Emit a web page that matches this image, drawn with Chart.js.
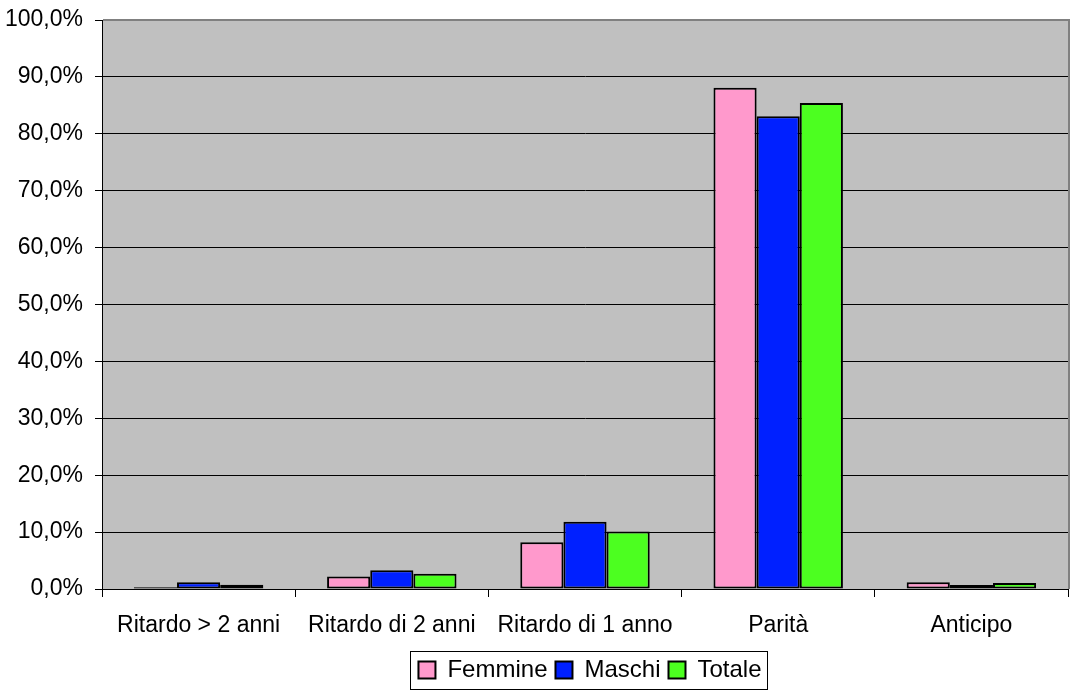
<!DOCTYPE html>
<html>
<head>
<meta charset="utf-8">
<script src="https://cdn.jsdelivr.net/npm/chart.js@4"></script>
<style>
    body { margin: 0; background: #ffffff; }
    canvas { display: block; }
</style>
</head>
<body>
<canvas id="grafico" width="1078" height="698"></canvas>
<script>
// Dati (percentuali)
const categorie = ['Ritardo > 2 anni', 'Ritardo di 2 anni', 'Ritardo di 1 anno', 'Parità', 'Anticipo'];
const femmine = [0.3, 2.2, 8.2, 88.1, 1.2];
const maschi = [1.2, 3.3, 11.8, 83.1, 0.7];
const totale = [0.75, 2.7, 10.1, 85.4, 1.05];
const yMin = 0;
const yMax = 100;
const yPasso = 10;

const fontBase = "'Liberation Sans', Arial, sans-serif";
const spostaLegenda = 56; // la legenda nell'originale non è centrata sulla pagina

// Sfondo grigio dell'area del grafico, cornice e riquadro della legenda
const sfondoPlugin = {
    id: 'sfondo',
    afterLayout(chart) {
        const leg = chart.legend;
        leg.left += spostaLegenda;
        leg.right += spostaLegenda;
        leg.legendHitBoxes.forEach(b => { b.left += spostaLegenda; });
    },
    beforeDraw(chart) {
        const { ctx, chartArea: a } = chart;
        ctx.save();
        ctx.fillStyle = '#c0c0c0';
        ctx.fillRect(a.left, a.top, a.right - a.left, a.bottom - a.top);
        ctx.restore();
    },
    beforeDatasetsDraw(chart) {
        const { ctx, chartArea: a } = chart;
        ctx.save();
        ctx.strokeStyle = '#808080';
        ctx.lineWidth = 2;
        ctx.beginPath();
        ctx.moveTo(a.left + 1, a.top);
        ctx.lineTo(a.right + 1, a.top);
        ctx.lineTo(a.right + 1, a.bottom);
        ctx.stroke();
        ctx.restore();
    },
    afterDraw(chart) {
        const boxes = chart.legend.legendHitBoxes;
        if (!boxes || !boxes.length) return;
        const { ctx } = chart;
        const left = Math.min(...boxes.map(b => b.left)) - 8;
        const right = Math.max(...boxes.map(b => b.left + b.width)) + 6;
        const top = Math.min(...boxes.map(b => b.top)) - 7;
        const bottom = Math.max(...boxes.map(b => b.top + b.height)) + 7;
        ctx.save();
        ctx.strokeStyle = '#000000';
        ctx.lineWidth = 1;
        ctx.strokeRect(Math.round(left) + 0.5, Math.round(top) + 0.5, Math.round(right - left), Math.round(bottom - top));
        ctx.restore();
    }
};

const ctx = document.getElementById('grafico').getContext('2d');

new Chart(ctx, {
    type: 'bar',
    data: {
        labels: categorie,
        datasets: [
            { label: 'Femmine', data: femmine, backgroundColor: '#ff99cc' },
            { label: 'Maschi', data: maschi, backgroundColor: '#0020ff' },
            { label: 'Totale', data: totale, backgroundColor: '#4cff20' }
        ].map(d => Object.assign(d, {
            borderColor: '#000000',
            borderWidth: 2,
            borderSkipped: false,
            categoryPercentage: 0.67,
            barPercentage: 1
        }))
    },
    options: {
        responsive: false,
        animation: false,
        devicePixelRatio: 1,
        layout: { padding: { left: 0, right: 10, top: 20, bottom: 6 } },
        plugins: {
            tooltip: { enabled: false },
            legend: {
                position: 'bottom',
                labels: {
                    color: '#000000',
                    font: { family: fontBase, size: 24 },
                    boxWidth: 17,
                    boxHeight: 17,
                    padding: 8,
                    generateLabels(chart) {
                        return chart.data.datasets.map((d, i) => ({
                            text: d.label,
                            fillStyle: d.backgroundColor,
                            strokeStyle: '#000000',
                            lineWidth: 2,
                            datasetIndex: i,
                            fontColor: '#000000'
                        }));
                    }
                }
            }
        },
        scales: {
            x: {
                grid: {
                    offset: true,
                    drawOnChartArea: false,
                    drawTicks: true,
                    tickLength: 8,
                    color: '#000000'
                },
                border: { color: '#000000', width: 1 },
                ticks: {
                    color: '#000000',
                    font: { family: fontBase, size: 23 },
                    padding: 15,
                    maxRotation: 0
                },
                afterFit(scale) {
                    scale.height = 61;
                    scale.paddingLeft = 0;
                    scale.paddingRight = 0;
                }
            },
            y: {
                min: yMin,
                max: yMax,
                grid: {
                    color: '#000000',
                    tickLength: 7
                },
                border: { color: '#000000', width: 1 },
                ticks: {
                    stepSize: yPasso,
                    color: '#000000',
                    font: { family: fontBase, size: 23 },
                    padding: 12,
                    callback: v => v.toFixed(1).replace('.', ',') + '%'
                },
                afterFit(scale) {
                    scale.width = 102;
                    scale.paddingTop = 0;
                    scale.paddingBottom = 0;
                }
            }
        }
    },
    plugins: [sfondoPlugin]
});
</script>
</body>
</html>
